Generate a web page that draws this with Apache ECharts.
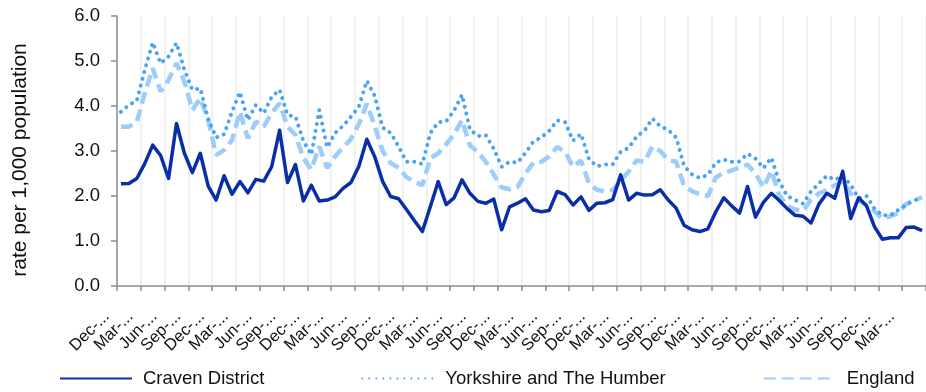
<!DOCTYPE html>
<html>
<head>
<meta charset="utf-8">
<script src="https://cdn.jsdelivr.net/npm/echarts@6/dist/echarts.min.js"></script>
<style>
  html, body { margin: 0; padding: 0; background: #ffffff; }
  #chart { width: 926px; height: 392px; }
</style>
</head>
<body>
<div id="chart"></div>
<script>
// Monthly periods, December to May, one category per month
const categories = [
  'Dec-2013',
  'Jan-2014','Feb-2014','Mar-2014','Apr-2014','May-2014','Jun-2014','Jul-2014','Aug-2014','Sep-2014','Oct-2014','Nov-2014','Dec-2014',
  'Jan-2015','Feb-2015','Mar-2015','Apr-2015','May-2015','Jun-2015','Jul-2015','Aug-2015','Sep-2015','Oct-2015','Nov-2015','Dec-2015',
  'Jan-2016','Feb-2016','Mar-2016','Apr-2016','May-2016','Jun-2016','Jul-2016','Aug-2016','Sep-2016','Oct-2016','Nov-2016','Dec-2016',
  'Jan-2017','Feb-2017','Mar-2017','Apr-2017','May-2017','Jun-2017','Jul-2017','Aug-2017','Sep-2017','Oct-2017','Nov-2017','Dec-2017',
  'Jan-2018','Feb-2018','Mar-2018','Apr-2018','May-2018','Jun-2018','Jul-2018','Aug-2018','Sep-2018','Oct-2018','Nov-2018','Dec-2018',
  'Jan-2019','Feb-2019','Mar-2019','Apr-2019','May-2019','Jun-2019','Jul-2019','Aug-2019','Sep-2019','Oct-2019','Nov-2019','Dec-2019',
  'Jan-2020','Feb-2020','Mar-2020','Apr-2020','May-2020','Jun-2020','Jul-2020','Aug-2020','Sep-2020','Oct-2020','Nov-2020','Dec-2020',
  'Jan-2021','Feb-2021','Mar-2021','Apr-2021','May-2021','Jun-2021','Jul-2021','Aug-2021','Sep-2021','Oct-2021','Nov-2021','Dec-2021',
  'Jan-2022','Feb-2022','Mar-2022','Apr-2022','May-2022'
];

// Rate per 1,000 population
const cravenDistrict = [
  2.27, 2.28, 2.39, 2.72, 3.13, 2.90, 2.39, 3.61, 2.95, 2.52, 2.95, 2.22,
  1.91, 2.45, 2.04, 2.32, 2.07, 2.37, 2.33, 2.65, 3.46, 2.30, 2.70, 1.89,
  2.24, 1.89, 1.91, 1.98, 2.17, 2.30, 2.66, 3.26, 2.87, 2.32, 1.99, 1.94,
  1.70, 1.45, 1.21, 1.76, 2.32, 1.81, 1.96, 2.36, 2.06, 1.88, 1.84, 1.93,
  1.25, 1.76, 1.84, 1.94, 1.69, 1.65, 1.68, 2.10, 2.03, 1.80, 1.98, 1.68,
  1.84, 1.85, 1.92, 2.47, 1.91, 2.06, 2.02, 2.03, 2.14, 1.91, 1.73, 1.35,
  1.25, 1.21, 1.27, 1.65, 1.96, 1.78, 1.62, 2.21, 1.53, 1.86, 2.06, 1.90,
  1.72, 1.57, 1.55, 1.40, 1.82, 2.06, 1.95, 2.55, 1.50, 1.96, 1.78, 1.32,
  1.04, 1.07, 1.07, 1.30, 1.31, 1.23
];

const yorkshireHumber = [
  3.87, 4.02, 4.12, 4.80, 5.41, 4.95, 5.10, 5.40, 4.80, 4.36, 4.39, 3.71,
  3.30, 3.37, 3.87, 4.31, 3.69, 4.02, 3.84, 4.20, 4.36, 3.80, 3.76, 3.22,
  2.92, 3.91, 3.08, 3.40, 3.56, 3.76, 3.99, 4.56, 4.22, 3.52, 3.40, 3.10,
  2.76, 2.76, 2.71, 3.40, 3.64, 3.66, 3.90, 4.25, 3.48, 3.33, 3.35, 3.05,
  2.65, 2.76, 2.74, 2.96, 3.21, 3.30, 3.45, 3.68, 3.64, 3.23, 3.38, 2.82,
  2.66, 2.70, 2.70, 2.98, 3.07, 3.32, 3.45, 3.72, 3.55, 3.47, 3.30, 2.67,
  2.48, 2.40, 2.47, 2.74, 2.81, 2.76, 2.77, 2.94, 2.83, 2.62, 2.85, 2.32,
  2.00, 1.91, 1.83, 2.10, 2.28, 2.45, 2.36, 2.45, 2.25, 1.95, 2.00, 1.72,
  1.57, 1.57, 1.69, 1.81, 1.90, 1.97
];

const england = [
  3.54, 3.54, 3.65, 4.28, 4.84, 4.32, 4.58, 4.95, 4.54, 3.91, 4.17, 3.69,
  2.91, 3.02, 3.24, 3.87, 3.28, 3.65, 3.54, 3.84, 4.06, 3.54, 3.36, 2.84,
  2.59, 3.10, 2.62, 2.88, 3.08, 3.27, 3.60, 4.05, 3.55, 3.00, 2.73, 2.63,
  2.42, 2.32, 2.24, 2.84, 2.95, 3.15, 3.37, 3.69, 3.12, 2.98, 2.76, 2.48,
  2.19, 2.15, 2.20, 2.50, 2.74, 2.76, 2.88, 3.09, 2.98, 2.65, 2.79, 2.28,
  2.14, 2.10, 2.13, 2.34, 2.54, 2.79, 2.76, 3.10, 3.00, 2.80, 2.76, 2.22,
  2.11, 2.04, 2.00, 2.41, 2.52, 2.57, 2.63, 2.70, 2.50, 2.19, 2.56, 2.02,
  1.78, 1.70, 1.67, 1.92, 2.06, 2.13, 2.24, 2.33, 2.05, 1.90, 1.80, 1.66,
  1.50, 1.55, 1.62, 1.82, 1.90, 1.97
];

const seriesNames = ['Craven District', 'Yorkshire and The Humber', 'England'];
const yTicks = { min: 0, max: 6, step: 1 };

const FONT = '"Liberation Sans", Arial, Helvetica, sans-serif';
const AXIS_GREY = '#8c8c8c';

const chart = echarts.init(document.getElementById('chart'), null, { renderer: 'canvas' });

chart.setOption({
  backgroundColor: '#ffffff',
  animation: false,
  textStyle: { fontFamily: FONT },
  grid: { left: 117, right: -7, top: 16, bottom: 106, containLabel: false },
  legend: {
    data: seriesNames,
    left: 54,
    top: 364,
    itemWidth: 72,
    itemHeight: 14,
    itemGap: 97,
    textStyle: { fontFamily: FONT, fontSize: 18.5, color: '#111', padding: [0, 0, 0, 6] },
    itemStyle: { opacity: 0 },
    lineStyle: { width: 2 }
  },
  xAxis: {
    type: 'category',
    data: categories,
    boundaryGap: true,
    axisLine: { lineStyle: { color: AXIS_GREY, width: 1.5 } },
    axisTick: { show: true, interval: 2, length: 5, lineStyle: { color: AXIS_GREY, width: 1.5 } },
    splitLine: { show: true, interval: 2, lineStyle: { color: '#ececec', width: 1.5 } },
    axisLabel: {
      interval: 2,
      rotate: 45,
      margin: 14,
      fontFamily: FONT,
      fontSize: 16.5,
      color: '#111',
      padding: [0, 20, 0, 0],
      formatter: v => v.slice(0, 4) + '...'
    }
  },
  yAxis: {
    type: 'value',
    min: yTicks.min,
    max: yTicks.max,
    interval: yTicks.step,
    name: 'rate per 1,000 population',
    nameLocation: 'middle',
    nameGap: 86,
    nameTextStyle: { fontFamily: FONT, fontSize: 21, color: '#111', padding: [0, 18, 0, 0] },
    axisLine: { show: true, lineStyle: { color: AXIS_GREY, width: 1.5 } },
    axisTick: { show: true, length: 6, lineStyle: { color: AXIS_GREY, width: 1.5 } },
    splitLine: { show: false },
    axisLabel: {
      margin: 17,
      fontFamily: FONT,
      fontSize: 18.5,
      color: '#111',
      formatter: v => v.toFixed(1)
    }
  },
  series: [
    {
      name: seriesNames[0],
      type: 'line',
      data: cravenDistrict,
      symbol: 'none',
      z: 4,
      lineStyle: { color: '#0a2ea6', width: 3.5, join: 'round' },
      itemStyle: { color: '#0a2ea6' }
    },
    {
      name: seriesNames[1],
      type: 'line',
      data: yorkshireHumber,
      symbol: 'none',
      z: 3,
      lineStyle: { color: '#4aa3f5', width: 4, type: [0.01, 7], cap: 'round' },
      itemStyle: { color: '#4aa3f5' }
    },
    {
      name: seriesNames[2],
      type: 'line',
      data: england,
      symbol: 'none',
      z: 2,
      lineStyle: { color: '#9dcdfb', width: 4.5, type: [12, 6], cap: 'butt' },
      itemStyle: { color: '#9dcdfb' }
    }
  ]
});
</script>
</body>
</html>
